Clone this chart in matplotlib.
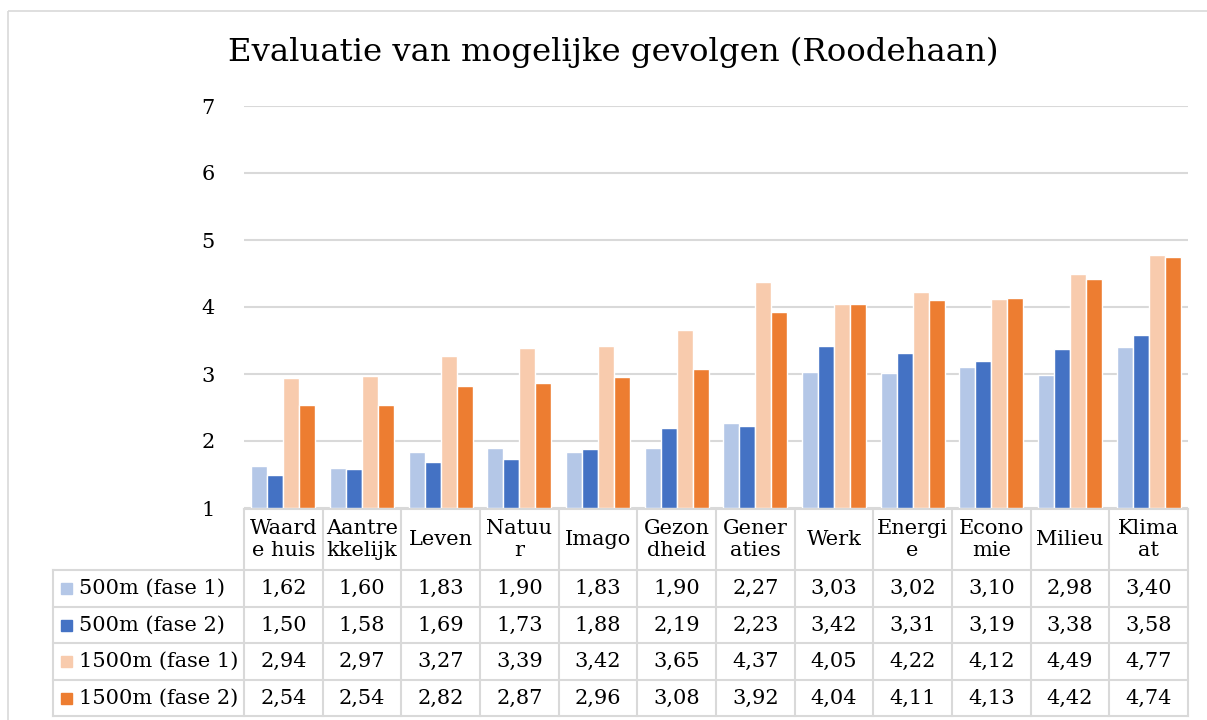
import matplotlib
matplotlib.use("Agg")
import matplotlib.pyplot as plt
import numpy as np

categories = ["Waard\ne huis", "Aantre\nkkelijk", "Leven", "Natuu\nr", "Imago",
              "Gezon\ndheid", "Gener\naties", "Werk", "Energi\ne", "Econo\nmie",
              "Milieu", "Klima\nat"]
series_names = ["500m (fase 1)", "500m (fase 2)", "1500m (fase 1)", "1500m (fase 2)"]
s500_f1 = [1.62, 1.60, 1.83, 1.90, 1.83, 1.90, 2.27, 3.03, 3.02, 3.10, 2.98, 3.40]
s500_f2 = [1.50, 1.58, 1.69, 1.73, 1.88, 2.19, 2.23, 3.42, 3.31, 3.19, 3.38, 3.58]
s1500_f1 = [2.94, 2.97, 3.27, 3.39, 3.42, 3.65, 4.37, 4.05, 4.22, 4.12, 4.49, 4.77]
s1500_f2 = [2.54, 2.54, 2.82, 2.87, 2.96, 3.08, 3.92, 4.04, 4.11, 4.13, 4.42, 4.74]
yticks = [1, 2, 3, 4, 5, 6, 7]
title = "Evaluatie van mogelijke gevolgen (Roodehaan)"

series = [s500_f1, s500_f2, s1500_f1, s1500_f2]
colors = ["#B4C7E7", "#4472C4", "#F8CBAD", "#ED7D31"]
FONT = "DejaVu Serif"
W, H = 1207, 720
fig = plt.figure(figsize=(W / 100, H / 100), dpi=100)

# overlay in pixel coordinates
ov = fig.add_axes([0, 0, 1, 1])
ov.set_xlim(0, W)
ov.set_ylim(H, 0)
ov.axis("off")

# chart border (left and top only)
grid_c = "#D9D9D9"
ov.plot([8, 8], [11, H + 5], color=grid_c, lw=1.2, solid_capstyle="butt")
ov.plot([8, W + 5], [11, 11], color=grid_c, lw=1.2, solid_capstyle="butt")

x0, x1 = 244, 1188
y_top, y_bot = 106, 508
ax = fig.add_axes([x0 / W, (H - y_bot) / H, (x1 - x0) / W, (y_bot - y_top) / H])
n = len(categories)
x = np.arange(n)
bw = 0.203
offsets = [-1.5 * bw, -0.5 * bw, 0.5 * bw, 1.5 * bw]
for vals, c, off, name in zip(series, colors, offsets, series_names):
    ax.bar(x + off, np.array(vals) - 1, bottom=1, width=bw, color=c,
           edgecolor="white", linewidth=1.0, label=name, zorder=3)
ax.set_xlim(-0.5, n - 0.5)
ax.set_ylim(1, 7)
ax.set_yticks(yticks)
ax.set_yticklabels([str(t) for t in yticks], fontfamily=FONT, fontsize=15)
ax.tick_params(axis="y", length=0, pad=21)
ax.set_xticks([])
for sp in ax.spines.values():
    sp.set_visible(False)
ax.yaxis.grid(True, color=grid_c, lw=1.5, zorder=0)
ax.set_axisbelow(True)
ax.patch.set_alpha(0)

fig.text(613 / W, 1 - 52 / H, title, ha="center", va="center",
         fontfamily=FONT, fontsize=23.3)

# table
col_w = (x1 - x0) / n
bounds = [x0 + i * col_w for i in range(n + 1)]
row_y = [509, 570, 607, 643, 680, 716]
leg_x = 53
lc = "#D9D9D9"
lw = 1.5
ov.plot([x0, x1], [row_y[0], row_y[0]], color=lc, lw=lw)
for yy in row_y[1:]:
    ov.plot([leg_x, x1], [yy, yy], color=lc, lw=lw)
for i, bx in enumerate(bounds):
    ov.plot([bx, bx], [row_y[0], row_y[-1]], color=lc, lw=lw)
ov.plot([leg_x, leg_x], [row_y[1], row_y[-1]], color=lc, lw=lw)

tfs = 15
for i, cat in enumerate(categories):
    cx = (bounds[i] + bounds[i + 1]) / 2
    ov.text(cx, (row_y[0] + row_y[1]) / 2, cat, ha="center", va="center",
            fontfamily=FONT, fontsize=tfs, linespacing=1.2)
for r, (vals, c, name) in enumerate(zip(series, colors, series_names)):
    cy = (row_y[r + 1] + row_y[r + 2]) / 2
    ov.add_patch(plt.Rectangle((61, cy - 5.5), 11, 11, color=c))
    ov.text(79, cy, name, ha="left", va="center", fontfamily=FONT, fontsize=tfs)
    for i, v in enumerate(vals):
        cx = (bounds[i] + bounds[i + 1]) / 2
        ov.text(cx, cy, f"{v:.2f}".replace(".", ","), ha="center", va="center",
                fontfamily=FONT, fontsize=tfs)

fig.savefig("out.png", dpi=100, facecolor="white")
